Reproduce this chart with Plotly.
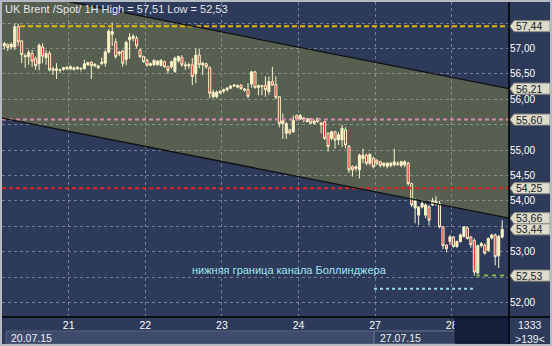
import plotly.graph_objects as go

# ---------------- data ----------------
bar_index = list(range(3, 147))

open_ = [57.05, 57.08, 57.03, 57.03, 57.43, 57.15, 56.86, 56.84, 56.90, 56.80,
         56.70, 57.03, 56.82, 56.90, 56.60, 56.57, 56.57, 56.59, 56.60, 56.60,
         56.59, 56.60, 56.60, 56.60, 56.68, 56.73, 56.66, 56.62, 56.70, 56.71,
         56.93, 57.28, 57.13, 56.90, 56.95, 56.78, 57.17, 57.20, 57.20, 56.97,
         56.84, 56.77, 56.67, 56.68, 56.68, 56.67, 56.74, 56.64, 56.64, 56.55,
         56.76, 56.82, 56.68, 56.66, 56.68, 56.50, 56.87, 56.68, 56.70, 56.62,
         56.05, 56.05, 56.13, 56.16, 56.19, 56.22, 56.26, 56.24, 56.28, 56.18,
         56.19, 56.30, 56.54, 56.23, 56.25, 56.27, 56.15, 56.35, 56.29, 56.05,
         55.52, 55.33, 55.40, 55.36, 55.68, 55.61, 55.60, 55.56, 55.62, 55.53,
         55.62, 55.50, 55.56, 55.33, 55.23, 55.36, 55.20, 55.20, 55.40, 55.07,
         54.67, 54.64, 54.61, 54.83, 54.90, 54.74, 54.84, 54.80, 54.77, 54.70,
         54.68, 54.70, 54.71, 54.74, 54.70, 54.71, 54.74, 54.34, 53.86, 53.72,
         53.88, 53.72, 53.88, 53.92, 53.95, 53.95, 53.49, 53.13, 53.20, 53.29,
         53.10, 53.20, 53.30, 53.47, 53.29, 53.22, 52.58, 53.12, 53.13, 53.03,
         53.27, 53.33, 52.92, 53.29]

high = [57.13, 57.10, 57.12, 57.49, 57.49, 57.17, 56.90, 56.97, 56.97, 56.84,
        57.10, 57.10, 56.97, 56.95, 56.64, 56.71, 56.60, 56.64, 56.65, 56.67,
        56.64, 56.65, 56.62, 56.78, 56.74, 56.75, 56.71, 56.67, 56.82, 56.97,
        57.38, 57.51, 57.20, 56.95, 56.97, 57.15, 57.30, 57.28, 57.25, 57.00,
        56.86, 56.80, 56.72, 56.78, 56.77, 56.78, 56.76, 56.65, 56.76, 56.84,
        56.86, 56.87, 56.74, 56.72, 56.81, 57.00, 57.00, 56.74, 56.72, 56.65,
        56.19, 56.17, 56.18, 56.21, 56.24, 56.28, 56.29, 56.29, 56.29, 56.22,
        56.32, 56.56, 56.56, 56.29, 56.28, 56.45, 56.45, 56.64, 56.45, 56.06,
        55.72, 55.55, 55.42, 55.68, 55.70, 55.71, 55.65, 55.63, 55.63, 55.60,
        55.64, 55.55, 55.58, 55.35, 55.38, 55.38, 55.35, 55.50, 55.45, 55.10,
        54.70, 54.70, 54.93, 55.03, 54.93, 54.93, 54.87, 54.82, 54.79, 54.76,
        54.76, 54.77, 55.03, 54.78, 54.79, 54.80, 54.77, 54.36, 54.05, 53.90,
        54.02, 53.95, 53.92, 54.06, 54.10, 54.00, 53.50, 53.15, 53.33, 53.31,
        53.22, 53.36, 53.50, 53.50, 53.31, 53.26, 53.14, 53.19, 53.16, 53.28,
        53.35, 53.36, 53.33, 53.62]

low = [56.98, 56.95, 56.98, 56.97, 57.05, 56.71, 56.62, 56.68, 56.64, 56.58,
       56.57, 56.71, 56.68, 56.55, 56.48, 56.40, 56.52, 56.56, 56.58, 56.57,
       56.56, 56.58, 56.55, 56.59, 56.66, 56.40, 56.63, 56.60, 56.68, 56.64,
       56.90, 57.05, 56.80, 56.85, 56.64, 56.67, 56.80, 57.14, 57.00, 56.81,
       56.72, 56.64, 56.65, 56.66, 56.66, 56.65, 56.62, 56.50, 56.60, 56.52,
       56.72, 56.64, 56.58, 56.60, 56.28, 56.32, 56.61, 56.48, 56.60, 56.02,
       56.02, 56.02, 56.10, 56.12, 56.15, 56.20, 56.24, 56.22, 56.19, 56.15,
       56.02, 56.23, 56.21, 56.08, 56.08, 56.05, 56.09, 56.27, 56.00, 55.45,
       55.22, 55.22, 55.30, 55.34, 55.58, 55.59, 55.55, 55.55, 55.51, 55.50,
       55.54, 55.33, 55.20, 54.97, 55.19, 55.03, 55.10, 55.06, 55.03, 54.55,
       54.48, 54.58, 54.44, 54.74, 54.70, 54.70, 54.64, 54.70, 54.66, 54.66,
       54.64, 54.66, 54.68, 54.69, 54.66, 54.66, 54.30, 53.88, 53.56, 53.52,
       53.85, 53.66, 53.52, 53.90, 53.90, 53.46, 53.05, 52.99, 53.13, 53.08,
       53.08, 53.18, 53.28, 53.24, 53.08, 52.53, 52.56, 53.08, 52.94, 53.00,
       53.24, 52.73, 52.68, 53.26]

close = [57.10, 57.02, 57.08, 57.43, 57.13, 56.88, 56.84, 56.92, 56.75, 56.66,
         57.06, 56.85, 56.90, 56.58, 56.57, 56.60, 56.58, 56.62, 56.63, 56.64,
         56.62, 56.63, 56.61, 56.70, 56.72, 56.66, 56.69, 56.66, 56.73, 56.93,
         57.34, 57.33, 56.84, 56.93, 56.71, 57.12, 57.22, 57.24, 57.05, 56.84,
         56.74, 56.67, 56.70, 56.77, 56.75, 56.77, 56.64, 56.57, 56.74, 56.81,
         56.84, 56.68, 56.66, 56.68, 56.45, 56.87, 56.68, 56.71, 56.64, 56.12,
         56.14, 56.14, 56.16, 56.19, 56.22, 56.26, 56.28, 56.27, 56.21, 56.20,
         56.06, 56.54, 56.23, 56.27, 56.27, 56.19, 56.35, 56.28, 56.04, 55.52,
         55.58, 55.52, 55.34, 55.59, 55.61, 55.68, 55.63, 55.62, 55.53, 55.57,
         55.56, 55.53, 55.23, 55.07, 55.36, 55.20, 55.30, 55.43, 55.10, 54.61,
         54.61, 54.67, 54.90, 54.90, 54.74, 54.92, 54.67, 54.74, 54.70, 54.74,
         54.74, 54.74, 54.77, 54.72, 54.77, 54.77, 54.34, 53.92, 54.00, 53.88,
         53.95, 53.92, 53.62, 54.00, 53.99, 53.49, 53.12, 53.06, 53.29, 53.10,
         53.20, 53.33, 53.49, 53.26, 53.14, 52.60, 53.12, 53.16, 52.97, 53.26,
         53.33, 52.90, 53.30, 53.44]

assert len(bar_index) == len(open_) == len(high) == len(low) == len(close)

day_labels = ["21", "22", "23", "24", "27", "28"]
day_start_index = [21.5, 43.5, 65.5, 87.5, 109.5, 131.5]

# gridlines every 0,50; labels hidden where the price tags cover them
price_ticks = [52.0, 52.5, 53.0, 53.5, 54.0, 54.5, 55.0, 55.5, 56.0, 56.5, 57.0, 57.5]
price_tick_text = ["52,00", "", "53,00", "", "54,00", "54,50",
                   "55,00", "", "56,00", "56,50", "57,00", ""]

channel_index = [2.34, 147.96]
channel_upper = [58.18, 56.21]
channel_lower = [55.63, 53.66]

level_resistance = 57.44
level_pink = 55.60
level_red = 54.25
level_low = 52.53
level_bollinger = 52.27

tag_values = [57.44, 56.21, 55.60, 54.25, 53.66, 53.44, 52.53]
tag_text = ["57,44", "56,21", "55,60", "54,25", "53,66", "53,44", "52,53"]

title_text = "UK Brent /Spot/ 1H High = 57,51 Low = 52,53"
note_text = "нижняя граница канала Боллинджера"

# ---------------- layout geometry ----------------
W, H = 552, 346
L, R, T, B = 2, 509, 2, 317
X_RANGE = [2.34, 147.96]
Y_RANGE = [51.715, 57.915]

def xp(px):
    return (px - L) / (R - L)

def yp(py):
    return (B - py) / (B - T)

NAVY = "#2d3a59"
OLIVE = "#565f50"
GRID = "rgba(185,192,205,0.5)"
CREAM = "#fbf3c6"
RED = "#e3202c"
FONT = "Liberation Sans"

fig = go.Figure()

# level lines (drawn under candles)
fig.add_trace(go.Scatter(x=[7.5, X_RANGE[1]], y=[level_resistance] * 2, mode="lines",
                         line=dict(color="#e8b20e", width=2, dash="5px,3px"), hoverinfo="skip"))
fig.add_trace(go.Scatter(x=X_RANGE, y=[level_pink] * 2, mode="lines",
                         line=dict(color="#d98bb0", width=2, dash="4px,3px"), hoverinfo="skip"))
fig.add_trace(go.Scatter(x=X_RANGE, y=[level_red] * 2, mode="lines",
                         line=dict(color="#e3231f", width=2, dash="4px,3px"), hoverinfo="skip"))
fig.add_trace(go.Scatter(x=[138.5, 146.8], y=[level_low] * 2, mode="lines",
                         line=dict(color="#8cb83c", width=2, dash="4px,4px"), hoverinfo="skip"))
fig.add_trace(go.Scatter(x=[109.2, 137.6], y=[level_bollinger] * 2, mode="lines",
                         line=dict(color="#9adcec", width=2, dash="3px,3px"), hoverinfo="skip"))

# candles
fig.add_trace(go.Candlestick(
    x=bar_index, open=open_, high=high, low=low, close=close,
    increasing=dict(line=dict(color=CREAM, width=1), fillcolor=CREAM),
    decreasing=dict(line=dict(color=CREAM, width=1), fillcolor=RED),
    whiskerwidth=0, hoverinfo="skip", showlegend=False))

# channel borders
fig.add_trace(go.Scatter(x=channel_index, y=channel_upper, mode="lines",
                         line=dict(color="#101010", width=1.3), hoverinfo="skip"))
fig.add_trace(go.Scatter(x=channel_index, y=channel_lower, mode="lines",
                         line=dict(color="#101010", width=1.3), hoverinfo="skip"))

shapes = []
# channel fill (below gridlines)
shapes.append(dict(
    type="path", xref="x", yref="y", layer="below",
    path=(f"M {channel_index[0]},{channel_upper[0]} L {channel_index[1]},{channel_upper[1]} "
          f"L {channel_index[1]},{channel_lower[1]} L {channel_index[0]},{channel_lower[0]} Z"),
    fillcolor=OLIVE, line=dict(width=0)))

# price tags on the right scale
half = 5.5 / ((B - T) / (Y_RANGE[1] - Y_RANGE[0]))
annotations = []
for v, t in zip(tag_values, tag_text):
    shapes.append(dict(
        type="path", xref="paper", yref="y", layer="above",
        path=(f"M {xp(510)},{v} L {xp(514)},{v + half} L {xp(550)},{v + half} "
              f"L {xp(550)},{v - half} L {xp(514)},{v - half} Z"),
        fillcolor="#dddccb", line=dict(color="#8f8f84", width=1)))
    annotations.append(dict(x=xp(514), y=v, xref="paper", yref="y", text=t,
                            showarrow=False, xanchor="left", yanchor="middle",
                            font=dict(family=FONT, size=10.5, color="#141a28")))

# frame lines
shapes.append(dict(type="line", xref="paper", yref="paper", layer="above",
                   x0=xp(0), x1=xp(W), y0=yp(B), y1=yp(B),
                   line=dict(color="#000000", width=1.5)))
shapes.append(dict(type="line", xref="paper", yref="paper", layer="above",
                   x0=xp(R), x1=xp(R), y0=yp(0), y1=yp(H),
                   line=dict(color="#000000", width=1.5)))

# bottom date strips
shapes.append(dict(type="rect", xref="paper", yref="paper", layer="above",
                   x0=xp(6), x1=xp(374), y0=yp(344), y1=yp(331),
                   fillcolor="#3e4b6a", line=dict(color="#56637f", width=1)))
shapes.append(dict(type="rect", xref="paper", yref="paper", layer="above",
                   x0=xp(374), x1=xp(455), y0=yp(344), y1=yp(331),
                   fillcolor="#33405e", line=dict(color="#6a7794", width=1)))
shapes.append(dict(type="rect", xref="paper", yref="paper", layer="above",
                   x0=xp(455), x1=xp(508), y0=yp(343), y1=yp(318),
                   fillcolor="#121e3a", line=dict(color="#0b1530", width=1)))
# outer border
shapes.append(dict(type="rect", xref="paper", yref="paper", layer="above",
                   x0=xp(1), x1=xp(W - 1), y0=yp(H - 1), y1=yp(1),
                   line=dict(color="#b6bac3", width=2), fillcolor="rgba(0,0,0,0)"))

annotations += [
    dict(x=xp(3), y=yp(9), xref="paper", yref="paper", text=title_text, showarrow=False,
         xanchor="left", yanchor="middle", font=dict(family=FONT, size=11, color="#e6e8ee")),
    dict(x=xp(190), y=yp(270), xref="paper", yref="paper", text=note_text, showarrow=False,
         xanchor="left", yanchor="middle", font=dict(family=FONT, size=11, color="#a0e6f2")),
    dict(x=xp(9), y=yp(337.5), xref="paper", yref="paper", text="20.07.15", showarrow=False,
         xanchor="left", yanchor="middle", font=dict(family=FONT, size=10.5, color="#eef0f6")),
    dict(x=xp(378), y=yp(337.5), xref="paper", yref="paper", text="27.07.15", showarrow=False,
         xanchor="left", yanchor="middle", font=dict(family=FONT, size=10.5, color="#eef0f6")),
    dict(x=xp(530), y=yp(325), xref="paper", yref="paper", text="1333", showarrow=False,
         xanchor="center", yanchor="middle", font=dict(family=FONT, size=10.5, color="#eef0f6")),
    dict(x=xp(530), y=yp(338.5), xref="paper", yref="paper", text="&gt;139&lt;", showarrow=False,
         xanchor="center", yanchor="middle", font=dict(family=FONT, size=10.5, color="#eef0f6")),
]

fig.update_layout(
    width=W, height=H,
    margin=dict(l=L, r=W - R, t=T, b=H - B, pad=0),
    paper_bgcolor=NAVY, plot_bgcolor=NAVY,
    showlegend=False,
    boxgap=0.15,
    shapes=shapes, annotations=annotations,
    font=dict(family=FONT, size=10, color="#ffffff"),
    xaxis=dict(range=X_RANGE, tickvals=day_start_index, ticktext=day_labels,
               showgrid=True, gridcolor=GRID, griddash="3px,3px", gridwidth=1,
               zeroline=False, showline=False, ticks="",
               tickfont=dict(family=FONT, size=10.5, color="#ffffff"),
               rangeslider=dict(visible=False), fixedrange=True),
    yaxis=dict(range=Y_RANGE, side="right", tickvals=price_ticks, ticktext=price_tick_text,
               showgrid=True, gridcolor=GRID, griddash="3px,3px", gridwidth=1,
               zeroline=False, showline=False, ticks="",
               tickfont=dict(family=FONT, size=10, color="#ffffff"), fixedrange=True),
)

fig.write_html("out.html", config={"displayModeBar": False})
